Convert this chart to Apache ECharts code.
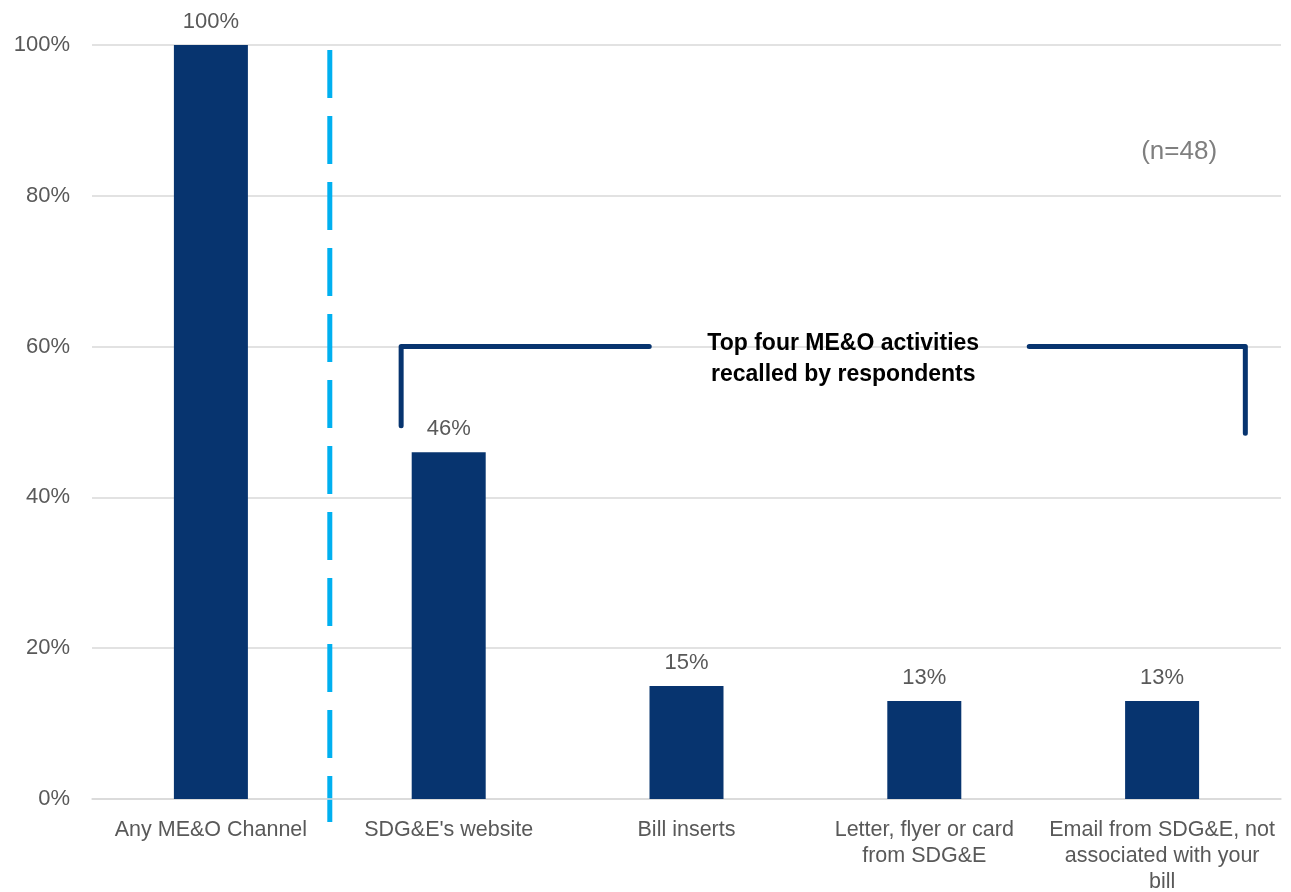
<!DOCTYPE html>
<html>
<head>
<meta charset="utf-8">
<script src="https://cdn.jsdelivr.net/npm/echarts@6/dist/echarts.min.js"></script>
<style>html,body{margin:0;padding:0;background:#fff}#c{width:1291px;height:892px}</style>
</head>
<body>
<div id="c"></div>
<script>
const categories = ["Any ME&O Channel", "SDG&E's website", "Bill inserts", "Letter, flyer or card\nfrom SDG&E", "Email from SDG&E, not\nassociated with your\nbill"];
const values = [100, 46, 15, 13, 13];
const yTicks = [0, 20, 40, 60, 80, 100];
const bracketLevel = 60;
const bracketText = "Top four ME&O activities\nrecalled by respondents";
const sampleNote = "(n=48)";

const FONT = "'Liberation Sans', Arial, sans-serif";
const GRAY = '#595959';
const BAR = '#07346F';
const chart = echarts.init(document.getElementById('c'), null, {renderer: 'canvas'});
chart.setOption({
  animation: false,
  grid: {left: 92, right: 10, top: 45, bottom: 93, outerBoundsMode: 'none', containLabel: false},
  xAxis: {
    type: 'category', data: categories,
    axisLine: {lineStyle: {color: '#d9d9d9', width: 1.5}},
    axisTick: {show: false},
    axisLabel: {color: GRAY, fontSize: 21.5, fontFamily: FONT, margin: 18, lineHeight: 26, interval: 0}
  },
  yAxis: {
    type: 'value', min: 0, max: 100, interval: 20,
    axisLine: {show: false}, axisTick: {show: false},
    splitLine: {lineStyle: {color: '#d9d9d9', width: 1.5}},
    axisLabel: {color: GRAY, fontSize: 22, fontFamily: FONT, margin: 22, formatter: v => v + '%'}
  },
  series: [{
    type: 'bar', data: values, barWidth: 74,
    itemStyle: {color: BAR},
    label: {show: true, position: 'top', distance: 12, color: GRAY, fontSize: 22, fontFamily: FONT, formatter: p => p.value + '%'}
  }]
});

function draw() {
  const p0 = chart.convertToPixel({xAxisIndex: 0}, 0);
  const p1 = chart.convertToPixel({xAxisIndex: 0}, 1);
  const p4 = chart.convertToPixel({xAxisIndex: 0}, 4);
  const step = p1 - p0;
  const sepX = (p0 + p1) / 2;
  const yTop = chart.convertToPixel({yAxisIndex: 0}, 100);
  const y0 = chart.convertToPixel({yAxisIndex: 0}, 0);
  const yB = chart.convertToPixel({yAxisIndex: 0}, bracketLevel);
  const yL = chart.convertToPixel({yAxisIndex: 0}, 49.5);
  const yR = chart.convertToPixel({yAxisIndex: 0}, 48.5);
  const bl = p1 - 0.2 * step;
  const br = p4 + 0.35 * step;
  const cx = (bl + br) / 2 + 20;
  const ls = {stroke: BAR, lineWidth: 5, lineCap: 'round', lineJoin: 'round'};
  chart.setOption({
    graphic: [
      {type: 'line', shape: {x1: sepX, y1: yTop + 5, x2: sepX, y2: y0 + 23}, style: {stroke: '#00B0F0', lineWidth: 5, lineDash: [48, 18]}},
      {type: 'polyline', shape: {points: [[bl, yL], [bl, yB], [cx - 194, yB]]}, style: Object.assign({fill: null}, ls)},
      {type: 'polyline', shape: {points: [[cx + 186, yB], [br, yB], [br, yR]]}, style: Object.assign({fill: null}, ls)},
      {type: 'text', x: cx, y: yB + 13, style: {text: bracketText, fill: '#000', font: 'bold 23px ' + FONT, textAlign: 'center', textVerticalAlign: 'middle', lineHeight: 31}},
      {type: 'text', x: p4 + 17, y: yTop + 107, style: {text: sampleNote, fill: '#7f7f7f', font: '26px ' + FONT, textAlign: 'center', textVerticalAlign: 'middle'}}
    ]
  });
}
draw();
</script>
</body>
</html>
